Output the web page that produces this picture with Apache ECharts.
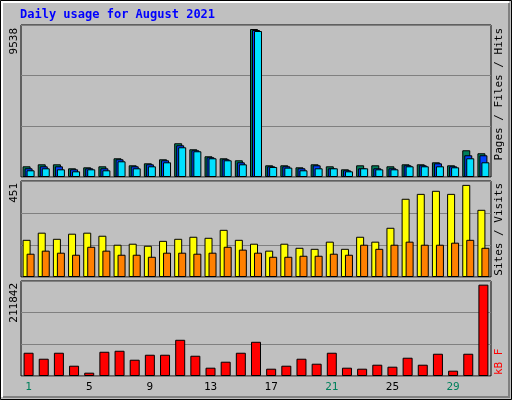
<!DOCTYPE html>
<html>
<head>
<meta charset="utf-8">
<script src="https://cdn.jsdelivr.net/npm/echarts@6/dist/echarts.min.js"></script>
<style>html,body{margin:0;padding:0;background:#c0c0c0}#chart{width:512px;height:400px}</style>
</head>
<body>
<div id="chart"></div>
<script>
var days = ['1','2','3','4','5','6','7','8','9','10','11','12','13','14','15','16','17','18','19','20','21','22','23','24','25','26','27','28','29','30','31'];
var weekend = ['1','7','8','14','15','21','22','28','29'];
var hits = [689,818,818,560,624,689,1206,754,883,1141,2175,1787,1335,1206,1077,9538,754,754,624,818,689,495,754,754,689,818,818,947,754,1722,1529];
var files = [560,689,689,495,560,560,1141,689,818,1077,2045,1722,1270,1141,947,9473,689,689,560,754,560,431,560,560,560,754,754,883,689,1400,1400];
var pages = [431,560,495,366,495,431,1012,560,689,947,1916,1658,1206,1077,818,9409,646,603,431,560,560,366,560,495,495,689,689,689,625,1206,947];
var visits = [182,217,187,212,217,202,158,163,153,177,187,197,192,231,182,163,129,163,143,138,173,138,197,173,241,383,407,422,407,451,329];
var sites = [114,129,119,109,148,129,109,109,99,119,119,114,119,148,134,119,99,99,104,104,114,109,158,138,158,173,158,158,168,182,143];
var kbytes = [53921,40056,53921,23879,7703,56232,58543,37745,49299,49299,83963,46988,19258,33123,53921,79341,16947,23879,40056,28501,53921,19258,16947,26190,21568,42367,26190,51610,12325,51610,211842];

var FONT = 'DejaVu Sans Mono';
var chart = echarts.init(document.getElementById('chart'));
var max1 = 9796, max2 = 470, max3 = 220316;

function grid(top, h) {
    return {left: 21, width: 470, top: top, height: h, show: true, backgroundColor: '#c0c0c0', borderColor: '#000', borderWidth: 1};
}
function yAx(i, max) {
    return {gridIndex: i, min: 0, max: max, interval: max / 3, axisLabel: {show: false}, axisTick: {show: false},
        axisLine: {show: false}, splitLine: {lineStyle: {color: '#808080', width: 1}}};
}
function xAx(i, lbl) {
    return {gridIndex: i, type: 'category', data: days, axisTick: {show: false}, axisLine: {show: false},
        axisLabel: lbl ? {show: true, fontFamily: FONT, fontSize: 11, color: '#000', margin: 6,
            formatter: function (v) { return weekend.indexOf(v) >= 0 ? '{w|' + v + '}' : v; },
            rich: {w: {color: '#00805c', fontFamily: FONT, fontSize: 11}}} : {show: false}};
}
function bar(name, data, xi, color, w, gap) {
    return {name: name, type: 'bar', data: data, xAxisIndex: xi, yAxisIndex: xi, barWidth: w, barGap: gap,
        itemStyle: {color: color, borderColor: '#000', borderWidth: 1}, animation: false, silent: true};
}
function vtext(x, y, text, rich) {
    return {type: 'text', x: x, y: y, rotation: Math.PI / 2,
        style: {text: text, fontFamily: FONT, fontSize: 11, fill: '#000', align: 'right', verticalAlign: 'middle', rich: rich}};
}
var r = {fontFamily: FONT, fontSize: 11};
function rc(c) { return {color: c, fontFamily: FONT, fontSize: 11}; }

chart.setOption({
    backgroundColor: '#c0c0c0',
    animation: false,
    grid: [grid(25, 152), grid(181, 96), grid(281, 95)],
    xAxis: [xAx(0, false), xAx(1, false), xAx(2, true)],
    yAxis: [yAx(0, max1), yAx(1, max2), yAx(2, max3)],
    series: [
        bar('Hits', hits, 0, '#00805c', 8, '-75%'),
        bar('Files', files, 0, '#0040ff', 8, '-75%'),
        bar('Pages', pages, 0, '#00e0ff', 8, '-75%'),
        bar('Visits', visits, 1, '#ffff00', 8, '-50%'),
        bar('Sites', sites, 1, '#ff8000', 8, '-50%'),
        bar('kB F', kbytes, 2, '#ff0000', 10, '0%')
    ],
    graphic: [
        {type: 'rect', shape: {x: 0.5, y: 0.5, width: 511, height: 399}, style: {fill: 'none', stroke: '#000', lineWidth: 1}},
        {type: 'polyline', shape: {points: [[2, 397], [2, 2], [509, 2]]}, style: {stroke: '#fff', lineWidth: 2, fill: 'none'}},
        {type: 'polyline', shape: {points: [[3, 397], [509, 397], [509, 3]]}, style: {stroke: '#808080', lineWidth: 2, fill: 'none'}},
        {type: 'text', x: 20, y: 15, style: {text: 'Daily usage for August 2021', fontFamily: FONT, fontSize: 12, fontWeight: 'bold', fill: '#0000ff', verticalAlign: 'middle'}},
        vtext(14, 28, '9538'),
        vtext(14, 183, '451'),
        vtext(14, 283, '211842'),
        {type: 'text', x: 499, y: 28, rotation: Math.PI / 2,
            style: {text: '{p|Pages} / {f|Files} / {h|Hits}', align: 'right', verticalAlign: 'middle', fontFamily: FONT, fontSize: 11, fill: '#000',
                rich: {p: rc('#00e0ff'), f: rc('#0040ff'), h: rc('#00805c')}}},
        {type: 'text', x: 499, y: 183, rotation: Math.PI / 2,
            style: {text: '{s|Sites} / {v|Visits}', align: 'right', verticalAlign: 'middle', fontFamily: FONT, fontSize: 11, fill: '#000',
                rich: {s: rc('#ff8000'), v: rc('#ffff00')}}},
        {type: 'text', x: 499, y: 375, rotation: Math.PI / 2,
            style: {text: 'kB F', align: 'left', verticalAlign: 'middle', fontFamily: FONT, fontSize: 11, fill: '#ff0000'}}
    ]
});
</script>
</body>
</html>
